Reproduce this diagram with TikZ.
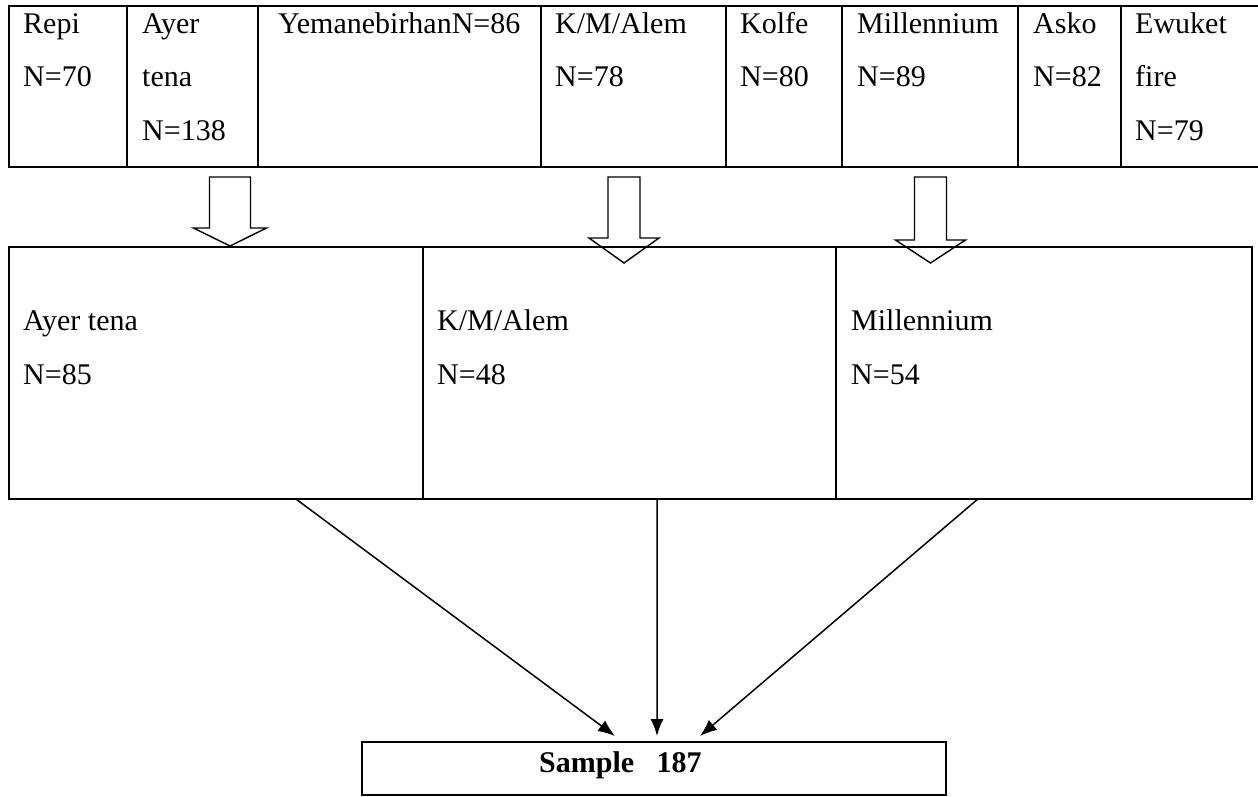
\documentclass[tikz,border=0pt]{standalone}
\usepackage{fontspec}
\setmainfont{Liberation Serif}
\usetikzlibrary{arrows.meta,calc}
\tikzset{>={Latex[length=17pt,width=13pt]}}
\tikzset{
  topcell/.style = {draw, line width=1.8pt, anchor=north west, inner sep=0pt, outer sep=0pt, minimum height=161pt},
  midcell/.style = {draw, line width=1.8pt, anchor=north west, inner sep=0pt, outer sep=0pt, minimum height=252pt},
  celltext/.style = {anchor=base west, align=left, inner sep=0pt, font=\fontsize{30}{53.5}\selectfont},
  hollow/.style = {line width=1.4pt, line join=miter},
  flow/.style = {->, line width=1.5pt}
}

\begin{document}
\begin{tikzpicture}[x=1pt,y=-1pt]
  \useasboundingbox (0,0) rectangle (1258,796);
  % schools (text nodes sit on the baseline of their last line)
  \foreach \nm/\x/\w in {repi/9/118, ayer/127/131, yeman/258/283, kmalem/541/185,
                         kolfe/726/116, mill/842/176, asko/1018/103, ewuket/1121/150}
    \node[topcell, minimum width=\w pt] (\nm) at (\x,6) {};
  \node[celltext] (repitxt)   at (23,86.5)   {Repi\\N=70};
  \node[celltext] (ayertxt)   at (142,140)   {Ayer\\tena\\N=138};
  \node[celltext] (yemantxt)  at (278,33)    {YemanebirhanN=86};
  \node[celltext] (kmalemtxt) at (555,86.5)  {K/M/Alem\\N=78};
  \node[celltext] (kolfetxt)  at (740,86.5)  {Kolfe\\N=80};
  \node[celltext] (milltxt)   at (857,86.5)  {Millennium\\N=89};
  \node[celltext] (askotxt)   at (1033,86.5) {Asko\\N=82};
  \node[celltext] (ewukettxt) at (1135,140)  {Ewuket\\fire\\N=79};
  % hollow arrows
  \foreach \cx/\sw/\hw/\hb/\tip in {230/20.5/36.5/228/246, 624/16/35/238/263, 930.5/16/35/240/263}
    \draw[hollow] (\cx-\sw,177) -- (\cx-\sw,\hb) -- (\cx-\hw,\hb) -- (\cx,\tip)
                  -- (\cx+\hw,\hb) -- (\cx+\sw,\hb) -- (\cx+\sw,177) -- cycle;
  % selected schools
  \foreach \nm/\x/\w in {ayerbox/9/414, kmbox/423/413, millbox/836/416}
    \node[midcell, minimum width=\w pt] (\nm) at (\x,247) {};
  \node[celltext] (ayerboxtxt) at (23,384)  {Ayer tena\\N=85};
  \node[celltext] (kmboxtxt)   at (437,384) {K/M/Alem\\N=48};
  \node[celltext] (millboxtxt) at (851,384) {Millennium\\N=54};
  % sample
  \node[draw, line width=1.8pt, anchor=north west, inner sep=0pt, outer sep=0pt,
        minimum width=584pt, minimum height=53pt] (sample) at (362,742) {};
  \node[anchor=base west, inner sep=0pt, font=\fontsize{30}{36}\selectfont\bfseries]
        (sampletxt) at (539,772) {Sample \ \ 187};
  \coordinate (tipA) at (615,736);
  \coordinate (tipB) at (657,736);
  \coordinate (tipC) at (700,736);
  \draw[flow] ($(ayerbox.south west)!0.693!(ayerbox.south east)$) -- (tipA);
  \draw[flow] ($(kmbox.south west)!0.567!(kmbox.south east)$) -- (tipB);
  \draw[flow] ($(millbox.south west)!0.341!(millbox.south east)$) -- (tipC);
\end{tikzpicture}
\end{document}
